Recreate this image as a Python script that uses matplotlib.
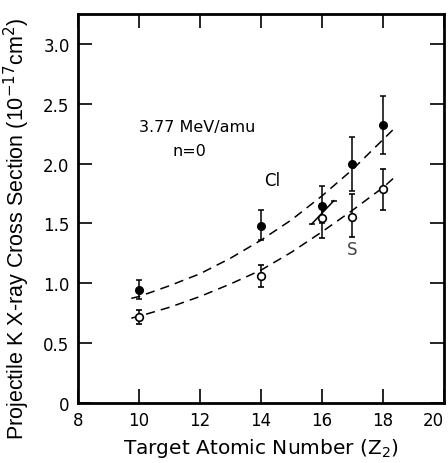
import matplotlib
matplotlib.use("Agg")
import matplotlib.pyplot as plt

# target atomic numbers
z = [10, 14, 16, 17, 18]

# Cl projectile (filled points)
cl_y = [0.945, 1.48, 1.65, 2.00, 2.32]
cl_lo = [0.87, 1.36, 1.50, 1.77, 2.08]
cl_hi = [1.03, 1.61, 1.81, 2.22, 2.56]

# S projectile (open points)
s_y = [0.715, 1.06, 1.545, 1.55, 1.79]
s_lo = [0.66, 0.97, 1.38, 1.39, 1.61]
s_hi = [0.78, 1.15, 1.66, 1.75, 1.955]

# dashed curves
curve_z = [9.75, 10, 11, 12, 13, 14, 15, 16, 17, 18, 18.4]
cl_curve = [0.875, 0.89, 0.98, 1.08, 1.21, 1.36, 1.53, 1.73, 1.95, 2.20, 2.30]
s_curve = [0.71, 0.725, 0.80, 0.89, 0.995, 1.11, 1.26, 1.43, 1.61, 1.80, 1.89]

# small slanted bar near Z=16
slash_z = [15.66, 16.39]
slash_y = [1.495, 1.69]

xticks = [8, 10, 12, 14, 16, 18, 20]
yticks = [0, 0.5, 1.0, 1.5, 2.0, 2.5, 3.0]
ytick_labels = ["0", "0.5", "1.0", "1.5", "2.0", "2.5", "3.0"]

fig = plt.figure(figsize=(4.48, 4.64), dpi=100)
ax = fig.add_axes([0.174, 0.129, 0.817, 0.839])

dash = (0, (6, 4))
ax.plot(curve_z, cl_curve, color="black", lw=1.1, linestyle=dash)
ax.plot(curve_z, s_curve, color="black", lw=1.1, linestyle=dash)

cl_err = [[y - lo for y, lo in zip(cl_y, cl_lo)], [hi - y for y, hi in zip(cl_y, cl_hi)]]
s_err = [[y - lo for y, lo in zip(s_y, s_lo)], [hi - y for y, hi in zip(s_y, s_hi)]]

ax.errorbar(z, cl_y, yerr=cl_err, fmt="o", color="black", ms=5.5,
            elinewidth=1.1, capsize=2, capthick=1.1, zorder=3)
ax.errorbar(z, s_y, yerr=s_err, fmt="o", color="black", mfc="white", mec="black",
            mew=1.2, ms=5.5, elinewidth=1.1, capsize=2, capthick=1.1, zorder=4)

ax.plot(slash_z, slash_y, color="black", lw=1.1, marker="_", ms=5, mew=1.1)

ax.text(11.9, 2.31, "3.77 MeV/amu", fontsize=11.5, ha="center", va="center")
ax.text(11.65, 2.105, "n=0", fontsize=11.5, ha="center", va="center")
ax.text(14.36, 1.86, "Cl", fontsize=12, ha="center", va="center")
ax.text(17.0, 1.29, "S", fontsize=12, ha="center", va="center", color="#444444")

ax.set_xlim(8, 20)
ax.set_ylim(0, 3.25)
ax.set_xticks(xticks)
ax.set_yticks(yticks)
ax.set_yticklabels(ytick_labels)
ax.tick_params(direction="in", length=10, width=1.2, labelsize=12,
               top=True, right=True, pad=6)
ax.get_xticklabels()[-1].set_horizontalalignment("right")
for s in ax.spines.values():
    s.set_linewidth(2)

ax.set_xlabel("Target Atomic Number (Z$_2$)", fontsize=14.5)
ax.xaxis.set_label_coords(0.5, -0.085)
ax.set_ylabel("Projectile K X-ray Cross Section (10$^{-17}$cm$^2$)",
              fontsize=15.5, family="Liberation Sans")
ax.yaxis.set_label_coords(-0.125, 0.45)

fig.savefig("out.png", dpi=100)
